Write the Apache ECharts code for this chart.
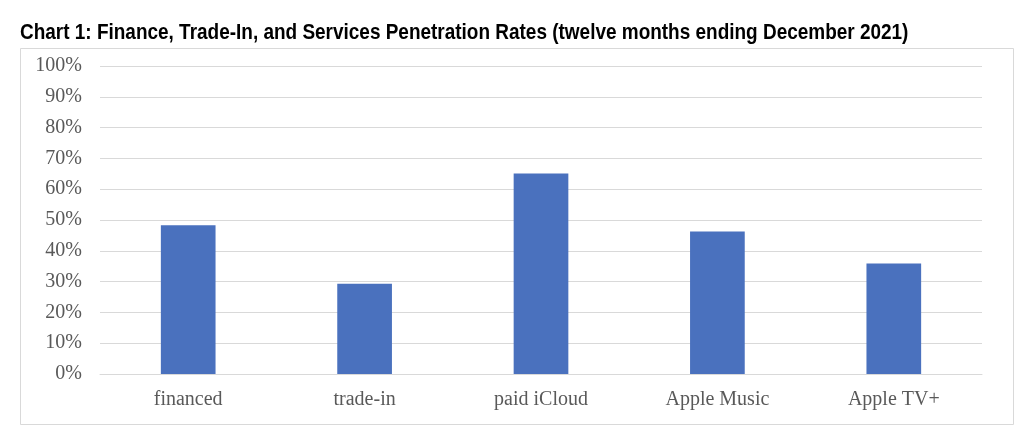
<!DOCTYPE html>
<html><head><meta charset="utf-8">
<script src="https://cdn.jsdelivr.net/npm/echarts@6/dist/echarts.min.js"></script>
<style>html,body{margin:0;padding:0;background:#fff}#c{width:1024px;height:439px}</style>
</head><body><div id="c"></div>
<script>
const categories = ['financed', 'trade-in', 'paid iCloud', 'Apple Music', 'Apple TV+'];
const values = [48.3, 29.3, 65.1, 46.3, 35.9];
const yTicks = [0, 10, 20, 30, 40, 50, 60, 70, 80, 90, 100];
const titleText = 'Chart 1: Finance, Trade-In, and Services Penetration Rates (twelve months ending December 2021)';

const chart = echarts.init(document.getElementById('c'));
chart.setOption({
  animation: false,
  backgroundColor: '#fff',
  graphic: [{
    type: 'rect', shape: { x: 20.5, y: 48.5, width: 993, height: 376 },
    style: { fill: 'none', stroke: '#d9d9d9', lineWidth: 1 }, z: -1
  }, {
    type: 'text', x: 20, y: 33, scaleX: 0.862,
    style: {
      text: titleText, fill: '#000', textVerticalAlign: 'middle',
      font: 'bold 22px "Liberation Sans", Arial, sans-serif'
    }
  }],
  grid: { left: 100, right: 42, top: 66, bottom: 65 },
  xAxis: {
    type: 'category', data: categories,
    axisLine: { lineStyle: { color: '#d9d9d9' } },
    axisTick: { show: false },
    axisLabel: { color: '#595959', fontFamily: '"Liberation Serif", serif', fontSize: 20, margin: 16 }
  },
  yAxis: {
    type: 'value', min: yTicks[0], max: yTicks[yTicks.length - 1], interval: 10,
    axisLine: { show: false }, axisTick: { show: false },
    splitLine: { lineStyle: { color: '#d9d9d9', width: 1 } },
    axisLabel: { color: '#595959', fontFamily: '"Liberation Serif", serif', fontSize: 20, margin: 18, formatter: v => v + '%' }
  },
  series: [{
    type: 'bar', data: values, barWidth: '31%',
    itemStyle: { color: '#4a71be' }
  }]
});
</script></body></html>
